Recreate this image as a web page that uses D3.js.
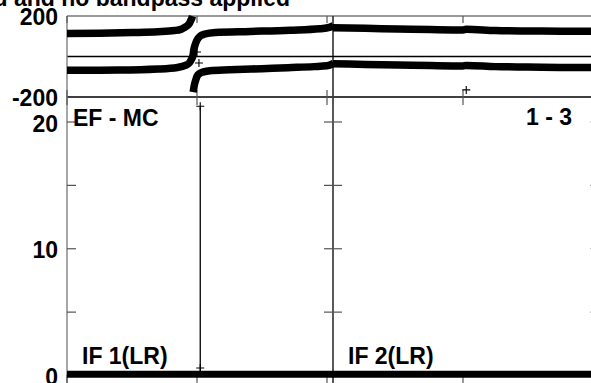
<!DOCTYPE html>
<html><head><meta charset="utf-8">
<script src="https://cdn.jsdelivr.net/npm/d3@7"></script>
<style>body{margin:0;background:#fff}svg{display:block}text{font-family:"Liberation Sans",Arial,sans-serif;font-weight:bold;font-size:23px;fill:#000}</style>
</head><body><svg id="c" width="591" height="383"></svg>
<script>
// ---- data (channel units, phase in degrees, amplitude) ----
const titleText = "d and no bandpass applied";
const baselineLabel = "EF - MC";
const baselineRight = "1 - 3";
const ifLabels = ["IF 1(LR)", "IF 2(LR)"];
const phaseTicks = [-200, 200];
const ampLabelTicks = [0, 10, 20];
const ampMinorTicks = [5, 10, 15, 20];
const chanTicks = [0, 200, 400];

// IF1 phase, series A (upper band on the left, wraps at +200)
const if1PhaseA = [[0,114],[50,115],[100,118],[140,122],[165,128],[175,134],[180,142],[185,152],[188,162],[190,175],[192,189],[193,199],
  [194,-176],[195,-158],[196,-140],[198,-117],[200,-98],[204,-84],[210,-76],[220,-70],[250,-66],[300,-60],[340,-55],[380,-50],[400,-46],[410,-34]];
// IF1 phase, series B (lower band on the left, rises through 0)
const if1PhaseB = [[0,-68],[80,-67],[140,-62],[170,-54],[182,-44],[188,-32],[191,-17],[194,7],[195,32],[197,57],[200,81],[205,101],[212,111],
  [228,119],[282,124],[343,130],[389,137],[405,145],[410,153]];
// IF2 phase
const if2PhaseA = [[0,-36],[50,-39],[100,-42],[150,-45],[200,-47],[205,-44],[250,-50],[300,-52],[350,-54],[410,-55]];
const if2PhaseB = [[0,142],[50,139],[100,136],[150,133],[200,131],[205,134],[250,128],[300,126],[350,125],[410,124]];
// isolated points
const if1PhaseOutliers = [[200,22],[203,-32]];
const if2PhaseOutliers = [[205,-165]];
// amplitude
const if1Amp = [[0,0.05],[100,0.05],[205,0.05],[205,21.2],[205,0.55],[205,0.05],[300,0.05],[410,0.05]];
const if2Amp = [[0,0.05],[100,0.05],[200,0.05],[300,0.05],[410,0.05]];

// ---- drawing ----
const svg = d3.select("#c");
const xIF = i => d3.scaleLinear().domain([0,410]).range([67+266*i, 67+266*i+266.5]);
const yPh = d3.scaleLinear().domain([-200,200]).range([97,16]);
const yAmp = d3.scaleLinear().domain([0,20]).range([375,121.5]);
const x1 = xIF(0), x2 = xIF(1);

// frame lines
svg.append("line").attr("x1",67).attr("x2",600).attr("y1",yPh(200)).attr("y2",yPh(200)).attr("stroke","#777").attr("stroke-width",1.5);
svg.append("line").attr("x1",67).attr("x2",600).attr("y1",yPh(0)).attr("y2",yPh(0)).attr("stroke","#000").attr("stroke-width",1.3);
svg.append("line").attr("x1",67).attr("x2",600).attr("y1",yPh(-200)).attr("y2",yPh(-200)).attr("stroke","#000").attr("stroke-width",1.3);
svg.append("line").attr("x1",67).attr("x2",67).attr("y1",16).attr("y2",390).attr("stroke","#777").attr("stroke-width",1.3);
svg.append("line").attr("x1",x2(0)).attr("x2",x2(0)).attr("y1",16).attr("y2",390).attr("stroke","#000").attr("stroke-width",1.3);

// amplitude axis ticks
function ampAxis(x, dir){
  const ax = (dir>0? d3.axisRight(yAmp) : d3.axisLeft(yAmp)).tickValues(ampMinorTicks).tickSize(9).tickFormat("");
  const g = svg.append("g").attr("transform",`translate(${x},0)`).call(ax);
  g.select(".domain").remove();
  g.selectAll("line").attr("stroke","#555").attr("stroke-width",1.2);
}
ampAxis(67, 1); ampAxis(x2(0), -1); ampAxis(x2(0), 1); ampAxis(x2(410), -1);

// channel ticks
[x1, x2].forEach(xs => {
  chanTicks.forEach(c => {
    const X = xs(c);
    [[16,23],[90,105],[375,392]].forEach(([a,b]) => {
      svg.append("line").attr("x1",X).attr("x2",X).attr("y1",a).attr("y2",b).attr("stroke","#555").attr("stroke-width",1.2);
    });
  });
});

// bands
function segs(data){
  const out=[]; let cur=[];
  data.forEach((d,i)=>{ if(i>0 && Math.abs(d[1]-data[i-1][1])>180){ out.push(cur); cur=[]; } cur.push(d); });
  out.push(cur); return out;
}
function band(data, xs, ys, w){
  const line = d3.line().x(d=>xs(d[0])).y(d=>ys(d[1])).curve(d3.curveMonotoneX);
  segs(data).forEach(s => svg.append("path").attr("d",line(s)).attr("fill","none").attr("stroke","#000").attr("stroke-width",w).attr("stroke-linejoin","round").attr("stroke-linecap","butt"));
}
band(if1PhaseA, x1, yPh, 7.5); band(if1PhaseB, x1, yPh, 7.5);
band(if2PhaseA, x2, yPh, 7.5); band(if2PhaseB, x2, yPh, 7.5);
const lineAmp = (data, xs, w) => svg.append("path").attr("d", d3.line().x(d=>xs(d[0])).y(d=>yAmp(d[1]))(data)).attr("fill","none").attr("stroke","#000").attr("stroke-width",w);
lineAmp(if1Amp.filter(d=>d[1]<0.3), x1, 7);
lineAmp(if2Amp, x2, 7);
lineAmp(if1Amp.filter(d=>d[0]===205), x1, 1.3);

// plus markers
function plus(X,Y){ svg.append("path").attr("d",`M${X-4},${Y}H${X+4}M${X},${Y-4}V${Y+4}`).attr("stroke","#000").attr("stroke-width",1.1); }
if1PhaseOutliers.forEach(d=>plus(x1(d[0]),yPh(d[1])));
if2PhaseOutliers.forEach(d=>plus(x2(d[0]),yPh(d[1])));
if1Amp.filter(d=>d[1]>0.3).forEach(d=>plus(x1(d[0]),yAmp(d[1])));

// labels
phaseTicks.forEach(v => svg.append("text").attr("x",58).attr("y",yPh(v)+9).attr("text-anchor","end").text(v));
ampLabelTicks.forEach(v => svg.append("text").attr("x",58).attr("y",yAmp(v)+10).attr("text-anchor","end").text(v));
svg.append("text").attr("x",290).attr("y",6).attr("text-anchor","end").text(titleText);
svg.append("text").attr("x",73).attr("y",126).text(baselineLabel);
svg.append("text").attr("x",572).attr("y",125).attr("text-anchor","end").text(baselineRight);
svg.append("text").attr("x",82).attr("y",364).text(ifLabels[0]);
svg.append("text").attr("x",348).attr("y",364).text(ifLabels[1]);
</script></body></html>
